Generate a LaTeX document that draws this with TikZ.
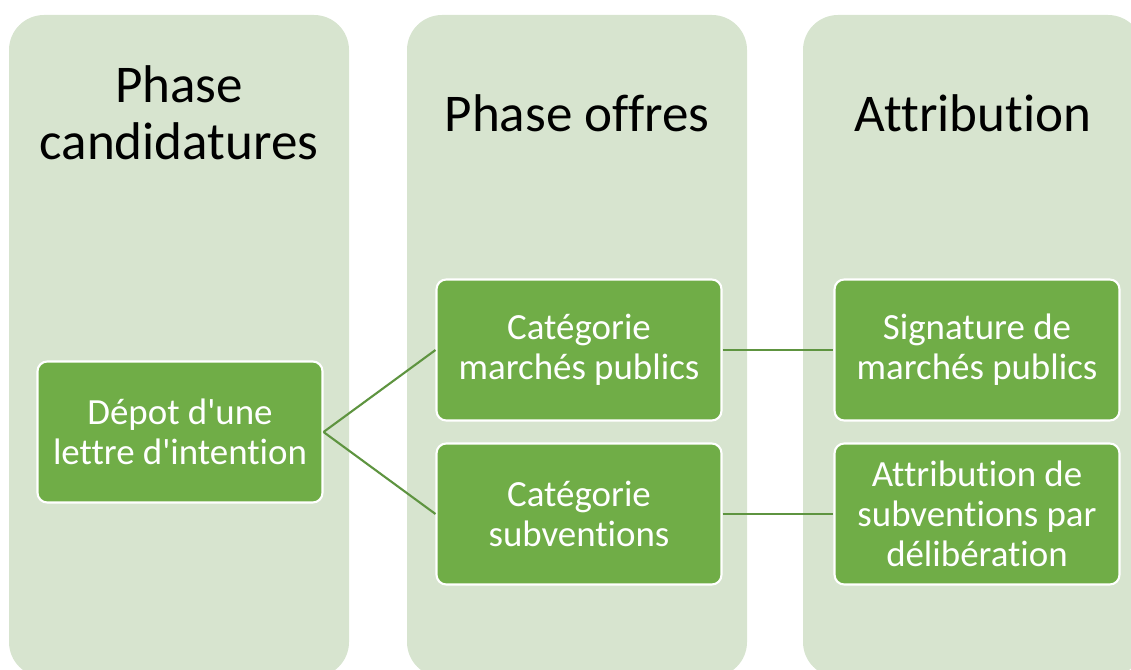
\documentclass[tikz,border=0pt]{standalone}
\usepackage{fontspec}
\setmainfont{Carlito}[Ligatures={TeXOff,NoCommon}]
\usepackage{xcolor}
\usetikzlibrary{positioning}

\definecolor{colfill}{HTML}{D7E4CF}
\definecolor{boxfill}{HTML}{70AD47}
\definecolor{linkcol}{HTML}{5E9440}

\tikzset{
  phasebox/.style={fill=colfill, rounded corners=19.9pt},
  phasetitle/.style={align=center, font=\fontsize{30.2}{32.5}\selectfont, inner sep=0pt},
  stepbox/.style={draw=white, line width=1.2pt, fill=boxfill, rounded corners=5.5pt,
    text=white, align=center, minimum width=5.7cm, minimum height=2.82cm,
    inner sep=0pt, font=\fontsize{21}{22.7}\selectfont},
  link/.style={draw=linkcol, line width=1.2pt}
}

\begin{document}
\begin{tikzpicture}[x=0.02cm, y=-0.02cm]
  \def\W{1131}
  \def\H{669}
  \def\ya{350}
  \def\yb{514}

  \useasboundingbox (0,0) rectangle (\W,\H);
  \clip (0,0) rectangle (\W,\H);

  % Columns
  \fill[phasebox] (9,15) rectangle (349,677);
  \fill[phasebox] (407,15) rectangle (747,677);
  \fill[phasebox] (803,15) rectangle (1143,677);

  % Titles
  \node[phasetitle] (tcand) at (179,113) {Phase\\candidatures};
  \node[phasetitle] (toffr) at (577,113) {Phase offres};
  \node[phasetitle] (tattr) at (973,113) {Attribution};

  % Steps
  \node[stepbox] (depot) at (180,432) {Dépot d'une\\lettre d'intention};
  \node[stepbox] (catmp) at (579,\ya) {Catégorie\\marchés publics};
  \node[stepbox] (catsub) at (579,\yb) {Catégorie\\subventions};
  \node[stepbox] (sigmp) at (977,\ya) {Signature de\\marchés publics};
  \node[stepbox] (attsub) at (977,\yb) {Attribution de\\subventions par\\délibération};

  % Links
  \draw[link] (depot.east) -- (catmp.west);
  \draw[link] (depot.east) -- (catsub.west);
  \draw[link] (catmp.east) -- (sigmp.west);
  \draw[link] (catsub.east) -- (attsub.west);
\end{tikzpicture}
\end{document}
